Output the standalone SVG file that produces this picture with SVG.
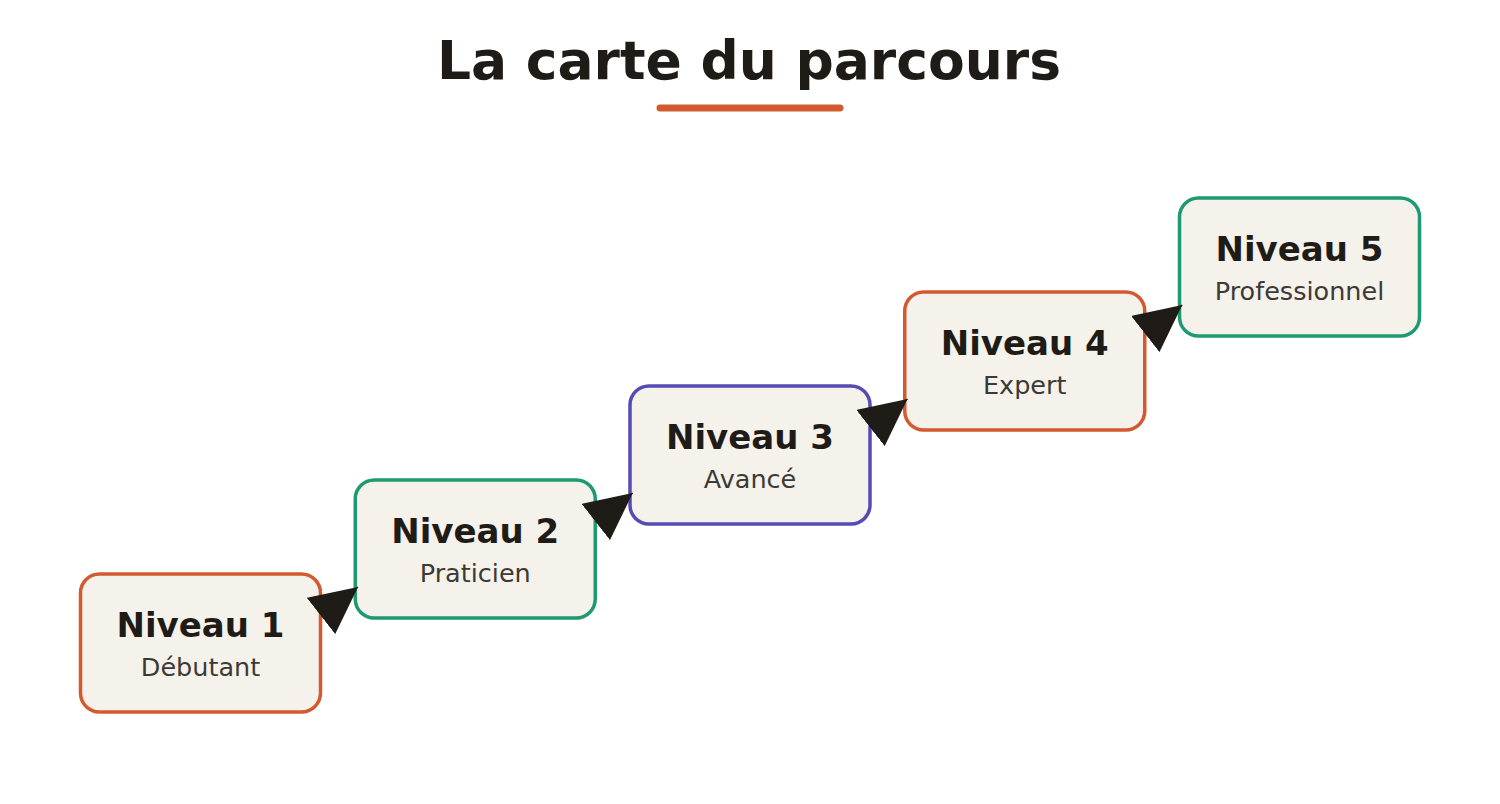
<svg xmlns="http://www.w3.org/2000/svg" width="1500" height="804" viewBox="0 0 1500 804">
<style>
.box{fill:#F5F2EC;stroke-width:3.5}
.o{stroke:#D35A30}.g{stroke:#1E9A72}.p{stroke:#564BB4}
.t{font-family:"DejaVu Sans",Verdana,sans-serif;font-weight:bold;font-size:34px;fill:#1F1C17;text-anchor:middle}
.s{font-family:"DejaVu Sans",Verdana,sans-serif;font-size:25.5px;fill:#3D3A35;text-anchor:middle}
.c{stroke:#1F1C17;stroke-width:1.5;fill:none}
</style>
<defs>
<marker id="ah" markerUnits="userSpaceOnUse" viewBox="0 0 47 46" markerWidth="47" markerHeight="46" refX="47" refY="23" orient="auto">
<path d="M0,0 L47,23 L0,46 Z" fill="#1F1C17"/>
</marker>
</defs>
<rect width="1500" height="804" fill="#FFFFFF"/>
<g id="title">
<text x="749" y="78.5" style="font-family:'DejaVu Sans',Verdana,sans-serif;font-weight:bold;font-size:53.5px;fill:#1F1C17;text-anchor:middle">La carte du parcours</text>
<line x1="660" y1="108" x2="840" y2="108" stroke="#D35A30" stroke-width="7" stroke-linecap="round"/>
</g>
<g id="node1">
<rect class="box o" x="80.5" y="574" width="240" height="138" rx="19"/>
<text class="t" x="200.5" y="636.5">Niveau 1</text>
<text class="s" x="200.5" y="675.5">Débutant</text>
</g>
<g id="node2">
<rect class="box g" x="355.25" y="480" width="240" height="138" rx="19"/>
<text class="t" x="475.25" y="542.5">Niveau 2</text>
<text class="s" x="475.25" y="581.5">Praticien</text>
</g>
<g id="node3">
<rect class="box p" x="630" y="386" width="240" height="138" rx="19"/>
<text class="t" x="750" y="448.5">Niveau 3</text>
<text class="s" x="750" y="487.5">Avancé</text>
</g>
<g id="node4">
<rect class="box o" x="904.75" y="292" width="240" height="138" rx="19"/>
<text class="t" x="1024.75" y="354.5">Niveau 4</text>
<text class="s" x="1024.75" y="393.5">Expert</text>
</g>
<g id="node5">
<rect class="box g" x="1179.5" y="198" width="240" height="138" rx="19"/>
<text class="t" x="1299.5" y="260.5">Niveau 5</text>
<text class="s" x="1299.5" y="299.5">Professionnel</text>
</g>
<g id="connectors">
<line class="c" x1="321" y1="616" x2="358" y2="587" marker-end="url(#ah)"/>
<line class="c" x1="595.75" y1="522" x2="632.75" y2="493" marker-end="url(#ah)"/>
<line class="c" x1="870.5" y1="428" x2="907.5" y2="399" marker-end="url(#ah)"/>
<line class="c" x1="1145.25" y1="334" x2="1182.25" y2="305" marker-end="url(#ah)"/>
</g>
</svg>
